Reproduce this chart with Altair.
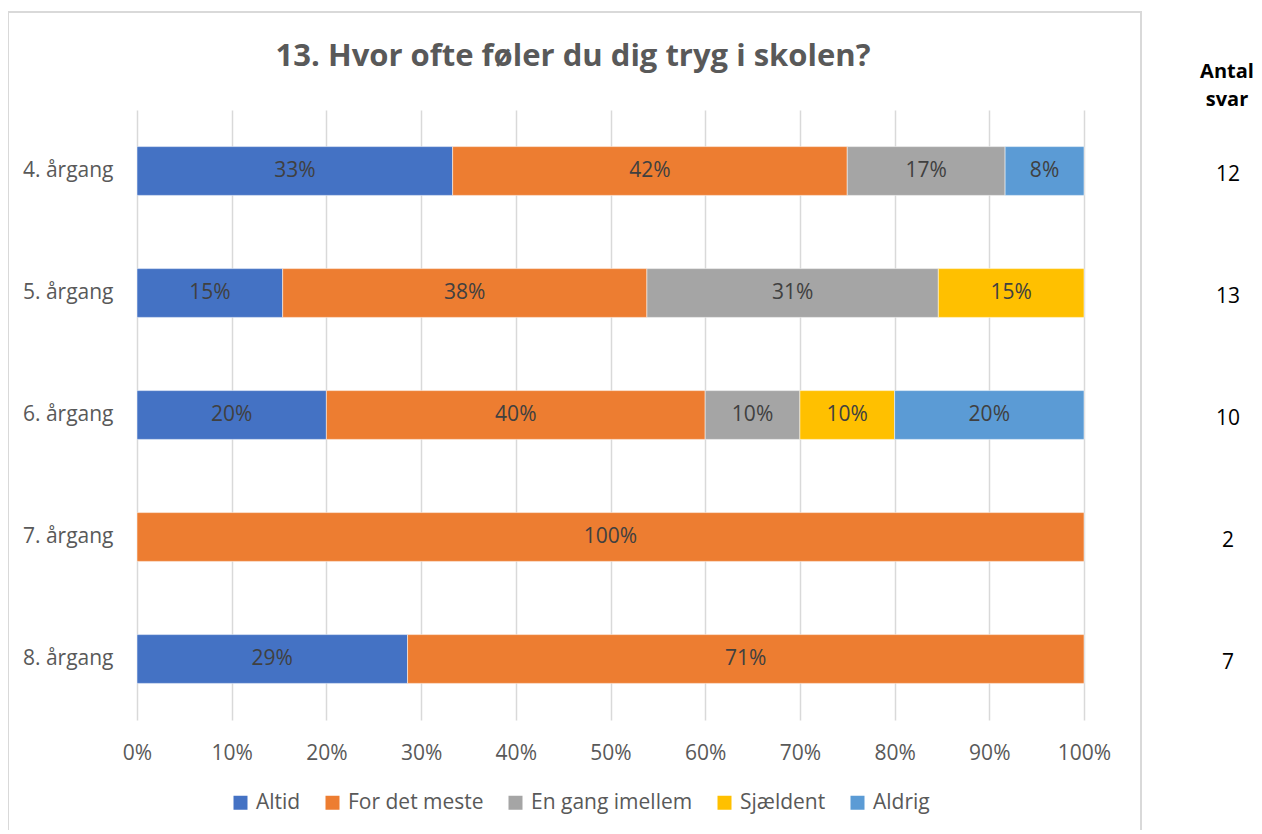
import altair as alt
import pandas as pd

grades = ["4. årgang", "5. årgang", "6. årgang", "7. årgang", "8. årgang"]
categories = ["Altid", "For det meste", "En gang imellem", "Sjældent", "Aldrig"]
colors = ["#4472C4", "#ED7D31", "#A5A5A5", "#FFC000", "#5B9BD5"]

altid = [33.33, 15.38, 20.0, 0.0, 28.57]
for_det_meste = [41.67, 38.46, 40.0, 100.0, 71.43]
en_gang_imellem = [16.67, 30.77, 10.0, 0.0, 0.0]
sjaeldent = [0.0, 15.38, 10.0, 0.0, 0.0]
aldrig = [8.33, 0.0, 20.0, 0.0, 0.0]
antal_svar = [12, 13, 10, 2, 7]

title_text = "13. Hvor ofte føler du dig tryg i skolen?"

series = [altid, for_det_meste, en_gang_imellem, sjaeldent, aldrig]
rows = []
for gi, g in enumerate(grades):
    for ci, c in enumerate(categories):
        v = series[ci][gi]
        if v > 0:
            rows.append({"grade": g, "cat": c, "ord": ci, "value": v})
df = pd.DataFrame(rows)
df_n = pd.DataFrame({"grade": grades, "n": antal_svar})

FONT = "Open Sans"
GRID = "#d9d9d9"

y_enc = alt.Y("grade:N", sort=grades, title=None,
              scale=alt.Scale(paddingInner=0.6, paddingOuter=0.3),
              axis=alt.Axis(domain=False, ticks=False, labelPadding=24,
                            labelFontSize=21, labelColor="#595959", labelFont=FONT))

bars = alt.Chart(df).mark_bar(stroke="white", strokeWidth=1, strokeOpacity=0.5).encode(
    y=y_enc,
    x=alt.X("value:Q", stack="normalize", title=None,
            scale=alt.Scale(domain=[0, 1], nice=False),
            axis=alt.Axis(format=".0%", values=[i / 10 for i in range(11)],
                          domain=False, ticks=False, grid=True, gridColor=GRID,
                          gridWidth=1.5, labelPadding=22, labelFontSize=21,
                          labelFlush=False,
                          labelColor="#595959", labelFont=FONT)),
    color=alt.Color("cat:N", sort=categories,
                    scale=alt.Scale(domain=categories, range=colors),
                    legend=alt.Legend(title=None, orient="none", direction="horizontal",
                                      legendX=93, legendY=682, symbolType="square",
                                      symbolSize=196, symbolStrokeWidth=0,
                                      labelFontSize=21, labelFont=FONT,
                                      labelColor="#595959", labelOffset=5,
                                      labelLimit=400, columnPadding=21)),
    order=alt.Order("ord:Q"),
)

labels = alt.Chart(df).transform_stack(
    stack="value", groupby=["grade"], as_=["v0", "v1"],
    sort=[alt.SortField("ord", order="ascending")], offset="normalize"
).transform_calculate(
    mid="(datum.v0 + datum.v1) / 2",
    label="format(datum.value / 100, '.0%')",
).mark_text(font=FONT, fontSize=21, color="#404040").encode(
    y=alt.Y("grade:N", sort=grades),
    x=alt.X("mid:Q"),
    text="label:N",
)

counts = alt.Chart(df_n).mark_text(font=FONT, fontSize=21, color="black", dy=4).encode(
    y=alt.Y("grade:N", sort=grades),
    x=alt.value(1091),
    text="n:Q",
)

dummy = pd.DataFrame({"h": [0]})

header = alt.Chart(dummy).mark_text(
    font=FONT, fontSize=20, fontWeight="bold", color="black",
    lineBreak="\n", lineHeight=28, baseline="middle"
).encode(x=alt.value(1090), y=alt.value(-38), text=alt.value("Antal\nsvar"))

title = alt.Chart(dummy).mark_text(
    font=FONT, fontSize=31, fontWeight="bold", color="#595959", baseline="middle"
).encode(x=alt.value(436), y=alt.value(-53), text=alt.value(title_text))

border_left = alt.Chart(dummy).mark_rule(color=GRID, strokeWidth=2).encode(
    x=alt.value(-129), y=alt.value(-98), y2=alt.value(725))
border_top = alt.Chart(dummy).mark_rule(color=GRID, strokeWidth=2).encode(
    x=alt.value(-130), x2=alt.value(1005), y=alt.value(-98))
border_right = alt.Chart(dummy).mark_rule(color=GRID, strokeWidth=2).encode(
    x=alt.value(1004), y=alt.value(-98), y2=alt.value(725))

chart = alt.layer(border_left, border_top, border_right, title, bars, labels, counts, header).properties(
    width=947, height=610,
    autosize=alt.AutoSizeParams(type="none"),
    padding={"left": 129, "top": 102, "right": 170, "bottom": 110},
).configure_view(stroke=None)

chart.save("out.html", embed_options={"renderer": "svg", "actions": False})
